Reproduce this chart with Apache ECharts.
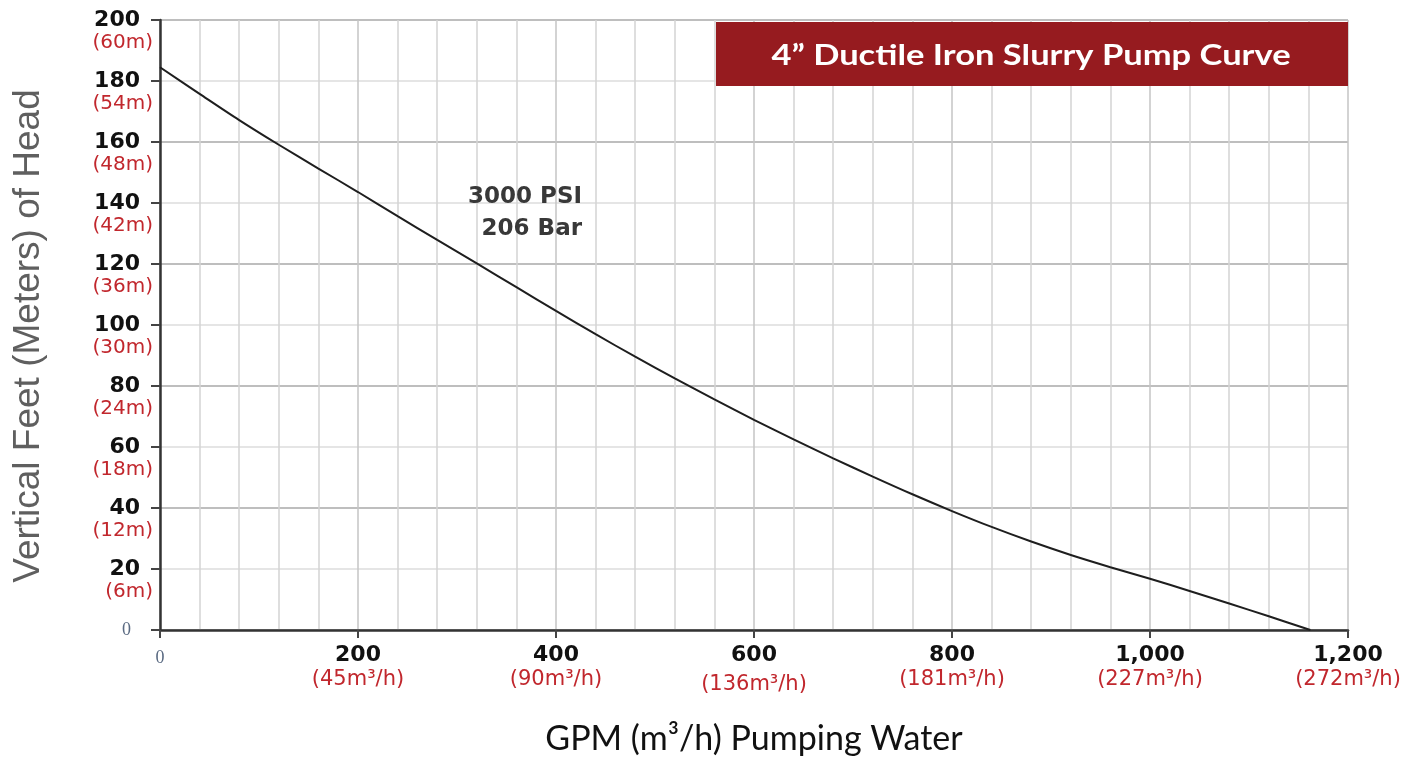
<!DOCTYPE html>
<html>
<head>
<meta charset="utf-8">
<script src="https://cdn.jsdelivr.net/npm/echarts@6/dist/echarts.min.js"></script>
<style>
  html, body { margin: 0; padding: 0; background: #fff; }
  #chart { width: 1413px; height: 759px; }
</style>
</head>
<body>
<div id="chart"></div>
<script>
// pump curve: flow (GPM) vs head (feet)
const flowGpm = [0, 40, 80, 120, 160, 200, 240, 280, 320, 360, 400, 440, 480, 520, 560, 600,
  640, 680, 720, 760, 800, 840, 880, 920, 960, 1000, 1040, 1080, 1120, 1162];
const headFeet = [184.5, 175.8, 167.2, 159.1, 151.3, 143.6, 135.7, 127.9, 120.2, 112.4, 104.6, 97.0, 89.6, 82.5, 75.6, 68.9,
  62.5, 56.3, 50.3, 44.5, 39.0, 33.8, 29.0, 24.6, 20.6, 16.8, 12.8, 8.7, 4.5, 0];

// axis labels
const yTicks = [0, 20, 40, 60, 80, 100, 120, 140, 160, 180, 200];
const yMeters = ['', '(6m)', '(12m)', '(18m)', '(24m)', '(30m)', '(36m)', '(42m)', '(48m)', '(54m)', '(60m)'];
const xTicks = [0, 200, 400, 600, 800, 1000, 1200];
const xTickText = ['0', '200', '400', '600', '800', '1,000', '1,200'];
const xMeters = ['', '(45m³/h)', '(90m³/h)', '(136m³/h)', '(181m³/h)', '(227m³/h)', '(272m³/h)'];

const titleText = '4\u201D Ductile Iron Slurry Pump Curve';
const noteText = '3000 PSI\n206 Bar';

const RED = '#c1272d';
const chart = echarts.init(document.getElementById('chart'));

const option = {
  animation: false,
  backgroundColor: '#fff',
  grid: { left: 160, right: 65, top: 20, bottom: 129, containLabel: false, outerBoundsMode: 'none' },
  xAxis: {
    type: 'value',
    min: 0,
    max: 1200,
    interval: 200,
    name: 'GPM (m³/h) Pumping Water',
    nameLocation: 'middle',
    nameGap: 92,
    nameTextStyle: { fontFamily: 'Lato', fontSize: 34, color: '#111' },
    axisLine: { show: true, lineStyle: { color: '#333', width: 2.5 } },
    axisTick: { show: true, length: 8, lineStyle: { color: '#444', width: 2 } },
    minorTick: { show: false, splitNumber: 5 },
    splitLine: { show: true, lineStyle: { color: '#c4c4c4', width: 1.5 } },
    minorSplitLine: { show: true, lineStyle: { color: '#d4d4d4', width: 1.5 } },
    axisLabel: {
      margin: 12,
      verticalAlign: 'top',
      showMinLabel: true,
      showMaxLabel: true,
      formatter: (v) => {
        const i = xTicks.indexOf(v);
        if (i < 0) return '';
        if (i === 0) return '{z|0}';
        const m = i === 3 ? 'm2' : 'm';
        return '{n|' + xTickText[i] + '}\n{' + m + '|' + xMeters[i] + '}';
      },
      rich: {
        n: { fontFamily: 'DejaVu Sans', fontWeight: 'bold', fontSize: 22, color: '#111', lineHeight: 26, align: 'center' },
        m: { fontFamily: 'DejaVu Sans', fontSize: 21, color: RED, lineHeight: 24, align: 'center' },
        m2: { fontFamily: 'DejaVu Sans', fontSize: 21, color: RED, lineHeight: 24, padding: [10, 0, 0, 0], align: 'center' },
        z: { fontFamily: 'Liberation Serif', fontSize: 18, color: '#5a6a82', lineHeight: 26, padding: [6, 0, 0, 0] }
      }
    }
  },
  yAxis: {
    type: 'value',
    min: 0,
    max: 200,
    interval: 20,
    name: 'Vertical Feet (Meters) of Head',
    nameLocation: 'middle',
    nameGap: 113,
    nameTextStyle: { fontFamily: 'Liberation Sans', fontSize: 37, color: '#5f5f5f', padding: [0, 22, 0, 0] },
    axisLine: { show: true, lineStyle: { color: '#333', width: 2.5 } },
    axisTick: { show: true, length: 9, lineStyle: { color: '#444', width: 2 } },
    splitLine: { show: true, lineStyle: { color: ['#a9a9a9', '#dcdcdc'], width: 1.5 } },
    axisLabel: {
      margin: 7,
      showMinLabel: true,
      showMaxLabel: true,
      formatter: (v) => {
        const i = yTicks.indexOf(v);
        if (i < 0) return '';
        if (i === 0) return '{z|0}';
        return '{s| }\n{n|' + v + '}\n{m|' + yMeters[i] + '}';
      },
      rich: {
        s: { fontSize: 10, lineHeight: 24 },
        n: { fontFamily: 'DejaVu Sans', fontWeight: 'bold', fontSize: 22, color: '#111', lineHeight: 22, padding: [0, 13, 0, 0] },
        m: { fontFamily: 'DejaVu Sans', fontSize: 20, color: RED, lineHeight: 24 },
        z: { fontFamily: 'Liberation Serif', fontSize: 18, color: '#5a6a82', padding: [0, 22, 0, 0] }
      }
    }
  },
  series: [
    {
      type: 'line',
      data: flowGpm.map((x, i) => [x, headFeet[i]]),
      smooth: 0.3,
      showSymbol: false,
      lineStyle: { color: '#1e1e1e', width: 2 },
      z: 5
    }
  ],
  graphic: [
    {
      type: 'rect',
      shape: { x: 716, y: 22, width: 632, height: 64 },
      style: { fill: '#961b1f' },
      z: 10
    },
    {
      type: 'text',
      x: 1031,
      y: 56,
      scaleX: 1.19,
      style: {
        text: titleText,
        fill: '#fff',
        font: 'bold 29px Lato',
        textAlign: 'center',
        textVerticalAlign: 'middle'
      },
      z: 11
    },
    {
      type: 'text',
      x: 582,
      y: 213,
      style: {
        text: noteText,
        fill: '#383838',
        font: 'bold 23px "DejaVu Sans"',
        lineHeight: 32,
        textAlign: 'right',
        textVerticalAlign: 'middle'
      },
      z: 11
    }
  ]
};

chart.setOption(option);
</script>
</body>
</html>
